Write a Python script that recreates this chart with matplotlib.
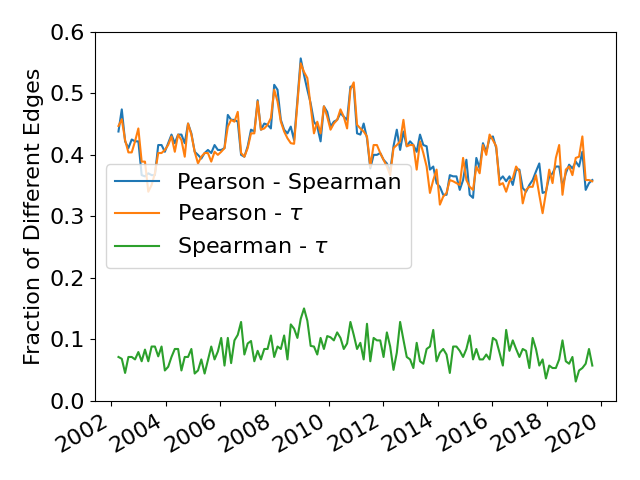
import matplotlib
matplotlib.use("Agg")
import matplotlib.pyplot as plt
import matplotlib.dates as mdates
import numpy as np
import pandas as pd

plt.rcParams['font.size'] = 16

# datas das janelas
dates = pd.date_range(start="2002-04-08", end="2019-09-05", periods=144)

pearson_spearman = [
    0.438, 0.474, 0.422, 0.411, 0.425, 0.422, 0.422, 0.367, 0.365, 0.370,
    0.367, 0.367, 0.416, 0.416, 0.405, 0.419, 0.433, 0.419, 0.433, 0.433,
    0.419, 0.451, 0.435, 0.405, 0.400, 0.394, 0.403, 0.408, 0.403, 0.416,
    0.408, 0.408, 0.411, 0.465, 0.457, 0.457, 0.454, 0.400, 0.397, 0.414,
    0.441, 0.438, 0.489, 0.441, 0.451, 0.449, 0.443, 0.514, 0.506, 0.457,
    0.441, 0.435, 0.446, 0.424, 0.489, 0.557, 0.530, 0.506, 0.484, 0.454,
    0.446, 0.422, 0.479, 0.470, 0.446, 0.454, 0.457, 0.468, 0.462, 0.457,
    0.511, 0.511, 0.435, 0.433, 0.451, 0.427, 0.378, 0.400, 0.400, 0.403,
    0.392, 0.386, 0.373, 0.414, 0.441, 0.408, 0.438, 0.414, 0.422, 0.416,
    0.405, 0.433, 0.416, 0.414, 0.376, 0.381, 0.354, 0.348, 0.335, 0.335,
    0.367, 0.365, 0.365, 0.343, 0.359, 0.392, 0.335, 0.330, 0.395, 0.378,
    0.419, 0.405, 0.427, 0.430, 0.411, 0.359, 0.365, 0.357, 0.365, 0.351,
    0.376, 0.376, 0.346, 0.340, 0.351, 0.359, 0.373, 0.386, 0.338, 0.340,
    0.365, 0.370, 0.381, 0.381, 0.348, 0.370, 0.384, 0.378, 0.389, 0.381,
    0.405, 0.343, 0.354, 0.359,
]

pearson_tau = [
    0.447, 0.458, 0.424, 0.404, 0.404, 0.422, 0.443, 0.389, 0.389, 0.340,
    0.351, 0.370, 0.403, 0.403, 0.408, 0.416, 0.430, 0.405, 0.433, 0.424,
    0.397, 0.451, 0.433, 0.405, 0.386, 0.397, 0.403, 0.403, 0.389, 0.405,
    0.400, 0.405, 0.411, 0.446, 0.457, 0.454, 0.470, 0.403, 0.397, 0.411,
    0.435, 0.435, 0.487, 0.441, 0.443, 0.449, 0.460, 0.506, 0.487, 0.454,
    0.438, 0.427, 0.419, 0.418, 0.484, 0.549, 0.535, 0.525, 0.479, 0.435,
    0.454, 0.435, 0.479, 0.462, 0.441, 0.451, 0.457, 0.474, 0.462, 0.443,
    0.506, 0.518, 0.449, 0.443, 0.438, 0.430, 0.381, 0.416, 0.416, 0.403,
    0.392, 0.381, 0.367, 0.411, 0.416, 0.422, 0.457, 0.414, 0.416, 0.416,
    0.376, 0.422, 0.403, 0.381, 0.338, 0.359, 0.376, 0.319, 0.332, 0.338,
    0.359, 0.357, 0.354, 0.351, 0.395, 0.359, 0.348, 0.343, 0.381, 0.370,
    0.416, 0.400, 0.433, 0.424, 0.414, 0.351, 0.354, 0.340, 0.357, 0.362,
    0.381, 0.373, 0.321, 0.343, 0.348, 0.348, 0.367, 0.335, 0.305, 0.338,
    0.376, 0.354, 0.395, 0.416, 0.335, 0.376, 0.381, 0.367, 0.395, 0.397,
    0.430, 0.359, 0.359, 0.357,
]

spearman_tau = [
    0.071, 0.068, 0.045, 0.071, 0.071, 0.067, 0.079, 0.064, 0.083, 0.064,
    0.088, 0.088, 0.072, 0.088, 0.049, 0.055, 0.071, 0.084, 0.084, 0.049,
    0.071, 0.071, 0.084, 0.044, 0.049, 0.067, 0.044, 0.066, 0.088, 0.067,
    0.080, 0.102, 0.057, 0.102, 0.061, 0.098, 0.107, 0.128, 0.075, 0.093,
    0.097, 0.064, 0.081, 0.067, 0.084, 0.084, 0.106, 0.071, 0.088, 0.084,
    0.106, 0.067, 0.124, 0.117, 0.102, 0.133, 0.150, 0.130, 0.089, 0.088,
    0.075, 0.102, 0.084, 0.105, 0.103, 0.098, 0.111, 0.102, 0.084, 0.093,
    0.128, 0.107, 0.084, 0.094, 0.067, 0.125, 0.064, 0.102, 0.098, 0.098,
    0.071, 0.111, 0.088, 0.050, 0.078, 0.128, 0.099, 0.071, 0.067, 0.053,
    0.094, 0.064, 0.060, 0.084, 0.088, 0.115, 0.064, 0.078, 0.084, 0.075,
    0.045, 0.088, 0.088, 0.081, 0.071, 0.084, 0.106, 0.067, 0.084, 0.067,
    0.067, 0.075, 0.067, 0.102, 0.098, 0.078, 0.057, 0.115, 0.081, 0.098,
    0.084, 0.071, 0.084, 0.081, 0.053, 0.102, 0.084, 0.057, 0.067, 0.036,
    0.057, 0.053, 0.053, 0.067, 0.098, 0.064, 0.060, 0.071, 0.031, 0.049,
    0.053, 0.060, 0.084, 0.057,
]

labels = ["Pearson - Spearman", r"Pearson - $\tau$", r"Spearman - $\tau$"]

fig, ax = plt.subplots(figsize=(6.4, 4.8), dpi=100)
ax.plot(dates, pearson_spearman, label=labels[0])
ax.plot(dates, pearson_tau, label=labels[1])
ax.plot(dates, spearman_tau, label=labels[2])

ax.set_ylim(0, 0.6)
ax.set_ylabel("Fraction of Different Edges")
ax.xaxis.set_major_locator(mdates.YearLocator(2))
ax.xaxis.set_major_formatter(mdates.DateFormatter("%Y"))
ax.legend(loc="center left")
fig.autofmt_xdate()
fig.tight_layout()
fig.savefig("out.png")
